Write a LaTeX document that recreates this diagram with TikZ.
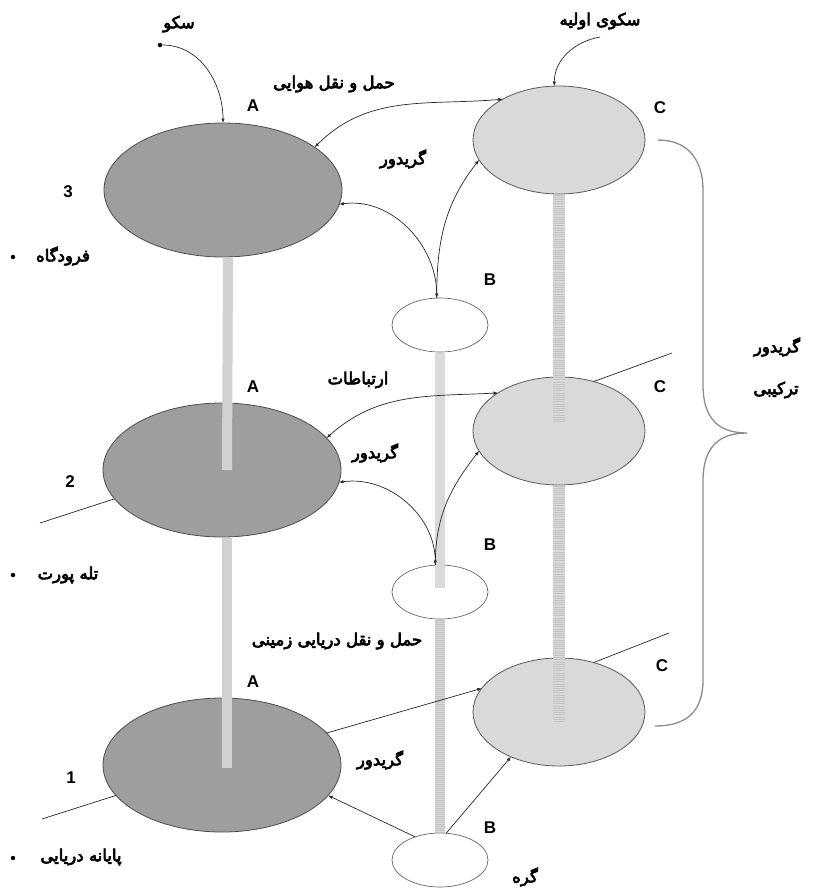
\documentclass[tikz,border=0pt]{standalone}
\usepackage{fontspec}
\setmainfont{Liberation Sans}
\newfontfamily\fafont[Script=Arabic,FakeBold=4]{DejaVu Sans}
\TeXXeTstate=1
\usetikzlibrary{shapes.geometric,arrows.meta}
\newcommand\fatext[1]{{\fafont\fontsize{16.5}{18}\selectfont\beginR #1\endR}}
\begin{document}
\begin{tikzpicture}[x=1pt,y=1pt,
  >={Latex[length=4.5pt,width=3.5pt]},
  bignode/.style={ellipse,draw=black!70,line width=0.8pt,minimum width=238pt,minimum height=134pt,inner sep=0pt,outer sep=0pt,fill=black!38},
  cnode/.style={ellipse,draw=black!65,line width=0.8pt,minimum width=172pt,minimum height=108pt,inner sep=0pt,outer sep=0pt,fill=black!15},
  bnode/.style={ellipse,draw=black!60,line width=0.7pt,minimum width=96pt,minimum height=54pt,inner sep=0pt,outer sep=0pt,fill=white},
  conn/.style={line width=0.7pt,black!85},
  lbl/.style={font=\fontsize{17}{17}\selectfont\bfseries,inner sep=0pt},
  falbl/.style={inner sep=0pt},
  dotnode/.style={circle,fill=black,inner sep=0pt,minimum size=4.5pt},
  barA/.style={line width=10pt,black!18},
  barB/.style={line width=10pt,black!15},
  barBt/.style={line width=10pt,black!24,dash pattern=on 0.8pt off 1.2pt},
  barC/.style={line width=12pt,black!14},
  barCt/.style={line width=12pt,black!24,dash pattern=on 1pt off 1.2pt},
  bracestyle/.style={line width=1.3pt,black!45}
]
\useasboundingbox (0,0) rectangle (814,-895);

% ellipses
\node[bignode] (A3) at (223,-190) {};
\node[bignode] (A2) at (222,-470) {};
\node[bignode] (A1) at (222,-765) {};
\node[cnode] (C3) at (559,-140) {};
\node[cnode] (C2) at (559,-431) {};
\node[cnode] (C1) at (559,-712) {};
\node[bnode] (B3) at (440,-325) {};
\node[bnode] (B2) at (440,-592) {};
\node[bnode] (B1) at (440,-860) {};

% vertical bars
\draw[barA] ([xshift=5pt,yshift=-0.5pt]A3.south) -- ([xshift=5pt]A2.center);
\draw[barA] ([xshift=5pt,yshift=-0.5pt]A2.south) -- ([xshift=5pt,yshift=-3pt]A1.center);
\draw[barB] ([yshift=-0.5pt]B3.south) -- ([yshift=4pt]B2.center);
\draw[barB] ([yshift=-0.5pt]B2.south) -- ([yshift=0.5pt]B1.north);
\draw[barBt] ([yshift=-0.5pt]B2.south) -- ([yshift=0.5pt]B1.north);
\draw[barC] ([yshift=-0.5pt]C3.south) -- ([yshift=8pt]C2.center);
\draw[barCt] ([yshift=-0.5pt]C3.south) -- ([yshift=8pt]C2.center);
\draw[barC] ([yshift=-0.5pt]C2.south) -- ([yshift=-10pt]C1.center);
\draw[barCt] ([yshift=-0.5pt]C2.south) -- ([yshift=-10pt]C1.center);

% brace
\coordinate (br1) at (658,-140);
\coordinate (brtip) at (747,-433);
\coordinate (br2) at (655,-726);
\draw[bracestyle] (br1) .. controls (688,-140) and (703,-160) .. (703,-190) -- (703,-385)
  .. controls (703,-418) and (718,-433) .. (brtip)
  .. controls (718,-433) and (703,-448) .. (703,-481) -- (703,-680)
  .. controls (703,-712) and (686,-726) .. (br2);

% top arrows
\node[dotnode] (s1) at (160,-45) {};
\draw[conn,->] (s1) to[out=0,in=90] (A3.north);
\coordinate (s2) at (600,-37);
\draw[conn,->] (s2) to[out=190,in=90] (C3.95);

% level 3
\draw[conn,<->] (A3.25) to[out=45,in=185] (C3.144);
\draw[conn,<->] (A3.-7) to[out=8,in=90] (B3.97);
\draw[conn,->] (B3.97) to[out=90,in=232] (C3.194);

% level 2
\draw[conn,<->] (A2.17) to[out=42,in=183] (C2.148);
\draw[conn,<->] (A2.-6) to[out=8,in=90] (B2.100);
\draw[conn,->] (B2.100) to[out=90,in=232] (C2.194);

% level 1
\draw[conn,->] (A1.17) -- (C1.163);
\draw[conn,->] (B1.137) -- (A1.-16);
\draw[conn,->] (B1.77) -- (C1.223);

% plane lines
\coordinate (p2) at (40,-523);
\draw[conn] (A2.195) -- (p2);
\coordinate (q2) at (672,-353);
\draw[conn] (C2.55) -- (q2);
\coordinate (p1) at (42,-819);
\draw[conn] (A1.196) -- (p1);
\coordinate (q1) at (669,-633);
\draw[conn] (C1.55) -- (q1);

% Latin labels
\node[lbl] (la3) at (253,-106) {A};
\node[lbl] (la2) at (253,-387) {A};
\node[lbl] (la1) at (253,-682) {A};
\node[lbl] (lb3) at (490,-280) {B};
\node[lbl] (lb2) at (490,-545) {B};
\node[lbl] (lb1) at (490,-828) {B};
\node[lbl] (lc3) at (660,-108) {C};
\node[lbl] (lc2) at (660,-387) {C};
\node[lbl] (lc1) at (662,-666) {C};
\node[lbl] (n3) at (68,-192) {3};
\node[lbl] (n2) at (70,-482) {2};
\node[lbl] (n1) at (71,-778) {1};

% Persian labels
\node[falbl] (t1) at (179,-24) {\fatext{سکو}};
\node[falbl] (t2) at (600,-21) {\fatext{سکوی اولیه}};
\node[falbl] (t3) at (334,-84) {\fatext{حمل و نقل هوایی}};
\node[falbl] (t4) at (403,-159) {\fatext{گریدور}};
\node[falbl] (t5) at (358,-380) {\fatext{ارتباطات}};
\node[falbl] (t6) at (375,-453) {\fatext{گریدور}};
\node[falbl] (t7) at (337,-641) {\fatext{حمل و نقل دریایی زمینی}};
\node[falbl] (t8) at (380,-760) {\fatext{گریدور}};
\node[falbl] (t9) at (525,-877) {\fatext{گره}};
\node[falbl] (t10) at (777,-347) {\fatext{گریدور}};
\node[falbl] (t11) at (776,-390) {\fatext{ترکیبی}};
\node[falbl] (t12) at (63,-256) {\fatext{فرودگاه}};
\node[falbl] (t13) at (68,-575) {\fatext{تله پورت}};
\node[falbl] (t14) at (81,-857) {\fatext{پایانه دریایی}};
\node[dotnode] (d1) at (13,-257) {};
\node[dotnode] (d2) at (13,-575) {};
\node[dotnode] (d3) at (13,-858) {};
\end{tikzpicture}
\end{document}
